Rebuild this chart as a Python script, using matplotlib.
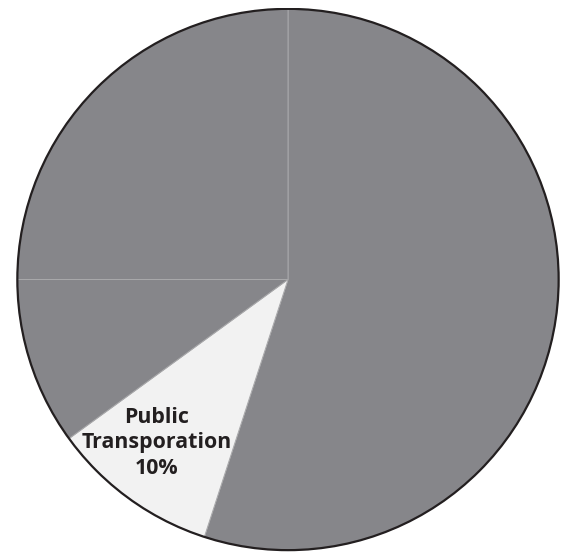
import matplotlib
matplotlib.use("Agg")
import matplotlib.pyplot as plt
from matplotlib.patches import Circle
import numpy as np

plt.rcParams['font.family'] = ['Open Sans', 'DejaVu Sans']

# slice shares, clockwise from 12 o'clock
categories = ['Other 1', 'Public\nTransporation', 'Other 2', 'Other 3']
shares = [55, 10, 10, 25]
show_label = [False, True, False, False]
colors = ['#86868a', '#f2f2f2', '#86868a', '#86868a']

fig = plt.figure(figsize=(5.68, 5.52), dpi=100)
ax = fig.add_axes([16 / 568, 0.5 / 552, 544 / 568, 544 / 552])

wedges, _ = ax.pie(shares, colors=colors, startangle=90, counterclock=False,
                   radius=1, wedgeprops=dict(edgecolor='#a9a9ab', linewidth=0.7))

# label only the highlighted slice, a bit off the mid angle like the original
for w, name, val, show in zip(wedges, categories, shares, show_label):
    if not show:
        continue
    ang = np.deg2rad((w.theta1 + w.theta2) / 2 - 2.8)
    r = 0.775
    ax.text(r * np.cos(ang), r * np.sin(ang), f"{name}\n{val}%",
            ha='center', va='center', fontsize=15.4, fontweight='bold',
            color='#231f20', linespacing=1.3)

ax.add_patch(Circle((0, 0), 1, fill=False, edgecolor='#231f20', linewidth=1.6))
ax.set_xlim(-1.005, 1.005)
ax.set_ylim(-1.005, 1.005)
ax.axis('off')

fig.savefig('out.png', dpi=100)
